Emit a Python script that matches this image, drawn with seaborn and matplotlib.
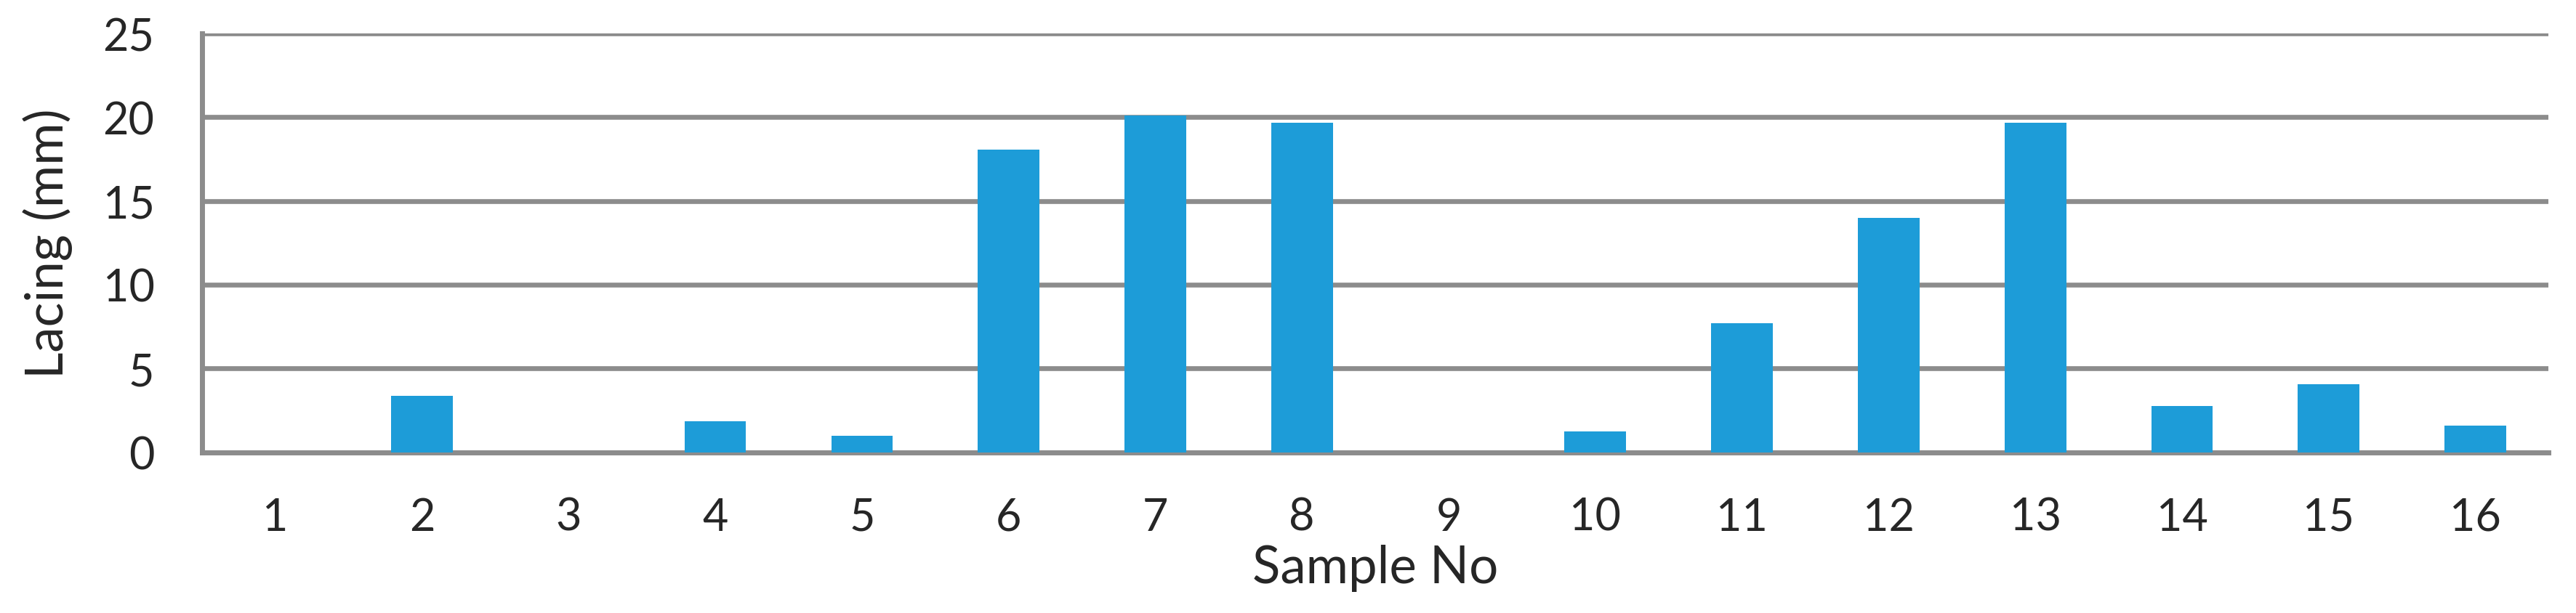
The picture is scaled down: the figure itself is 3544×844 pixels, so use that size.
import numpy as np
import pandas as pd
import matplotlib
matplotlib.use("Agg")
import matplotlib.pyplot as plt
import seaborn as sns

# --- data ---
samples = [str(i) for i in range(1, 17)]
lacing_mm = [0, 3.36, 0, 1.86, 0.98, 18.08, 20.1, 19.65,
             0, 1.23, 7.69, 13.99, 19.65, 2.74, 4.08, 1.59]
y_ticks = [0, 5, 10, 15, 20, 25]

BAR_COLOR = "#1d9cd8"
GRID_COLOR = "#8c8c8c"

df = pd.DataFrame({"Sample": samples, "Lacing": lacing_mm})

sns.set_theme(style="white")
plt.rcParams["font.family"] = ["Lato", "DejaVu Sans"]

fig = plt.figure(figsize=(17.72, 4.225), dpi=200)
ax = fig.add_axes([0.0784, 0.262, 0.911, 0.6823])

sns.barplot(data=df, x="Sample", y="Lacing", color=BAR_COLOR, width=0.42,
            saturation=1, linewidth=0, ax=ax, zorder=3)

# axes styling
ax.set_xlim(-0.5, len(samples) - 0.5)
ax.set_ylim(0, 25)
ax.set_yticks(y_ticks)
ax.yaxis.grid(True, color=GRID_COLOR, linewidth=2.4, zorder=0)
ax.set_axisbelow(True)

for side in ["top", "right"]:
    ax.spines[side].set_visible(False)
for side in ["left", "bottom"]:
    ax.spines[side].set_color(GRID_COLOR)
    ax.spines[side].set_linewidth(2.5)

# boundary ticks between categories, like the spreadsheet original
ax.set_xticks(np.arange(-0.5, len(samples), 1), minor=True)
ax.tick_params(axis="x", which="major", length=0, pad=22, labelsize=22)
ax.tick_params(axis="x", which="minor", length=8, width=2.5,
               color=GRID_COLOR, direction="out")
ax.tick_params(axis="y", which="major", length=7.5, width=2.5,
               color=GRID_COLOR, direction="out", pad=16, labelsize=22)

ax.set_xlabel("Sample No", fontsize=25.5, labelpad=3)
ax.set_ylabel("Lacing (mm)", fontsize=25.5, labelpad=15)

plt.savefig("out.png", dpi=200)
